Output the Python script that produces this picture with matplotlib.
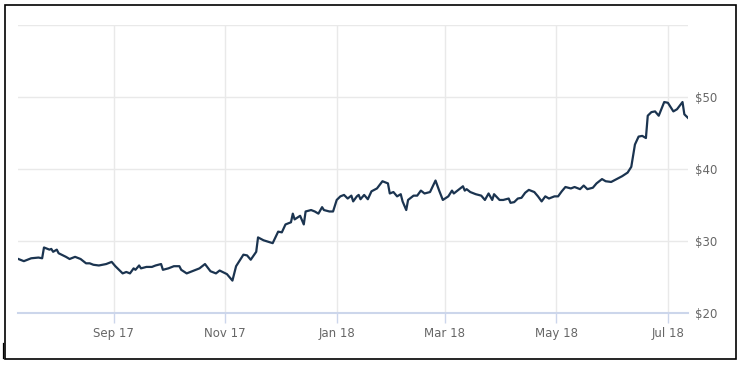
import matplotlib
matplotlib.use('Agg')
import matplotlib.pyplot as plt
import matplotlib.dates as mdates
import pandas as pd
from matplotlib.patches import Rectangle
from matplotlib.lines import Line2D

# дни от 2017-07-11 и цена закрытия
start_date = '2017-07-11'
days = [0, 3, 7, 11, 13, 14, 17, 18, 19, 21, 22, 26, 28, 31, 34, 37, 39, 41, 44, 48,
        51, 53, 55, 57, 59, 61, 63, 64, 66, 67, 70, 73, 75, 78, 79, 82, 85, 88, 89, 92,
        99, 102, 105, 108, 110, 114, 117, 119, 121, 123, 125, 127, 130, 131, 134, 139, 142, 144, 146, 149,
        150, 151, 154, 156, 157, 160, 162, 164, 166, 167, 170, 172, 174, 176, 178, 180, 182, 183, 185, 186,
        187, 189, 191, 193, 196, 199, 202, 203, 205, 207, 209, 210, 212, 213, 216, 218, 220, 222, 225, 228,
        230, 232, 235, 237, 238, 243, 244, 245, 247, 250, 253, 255, 257, 259, 260, 263, 265, 268, 269, 271,
        273, 275, 277, 279, 282, 284, 286, 288, 290, 293, 295, 297, 299, 302, 304, 307, 309, 311, 314, 316,
        319, 321, 324, 327, 330, 333, 335, 337, 339, 341, 343, 344, 346, 348, 350, 353, 355, 358, 360, 363,
        364, 366]
prices = [27.5, 27.2, 27.6, 27.7, 27.6, 29.1, 28.8, 28.9, 28.5, 28.8, 28.3, 27.8, 27.5, 27.8, 27.5, 26.9, 26.9, 26.7, 26.6, 26.8,
          27.1, 26.5, 26.0, 25.5, 25.7, 25.5, 26.2, 26.0, 26.6, 26.2, 26.4, 26.4, 26.6, 26.8, 26.0, 26.2, 26.5, 26.5, 26.0, 25.5,
          26.2, 26.8, 25.8, 25.5, 25.9, 25.4, 24.5, 26.5, 27.3, 28.1, 28.0, 27.4, 28.5, 30.5, 30.1, 29.7, 31.3, 31.2, 32.3, 32.6,
          33.8, 33.0, 33.5, 32.3, 34.1, 34.3, 34.1, 33.8, 34.7, 34.3, 34.1, 34.1, 35.7, 36.2, 36.4, 35.9, 36.3, 35.5, 36.2, 36.4,
          35.8, 36.4, 35.8, 36.9, 37.3, 38.3, 38.0, 36.6, 36.8, 36.2, 36.5, 35.5, 34.3, 35.7, 36.3, 36.3, 37.0, 36.6, 36.8, 38.4,
          37.0, 35.7, 36.2, 37.0, 36.6, 37.6, 37.0, 37.2, 36.8, 36.5, 36.3, 35.7, 36.6, 35.7, 36.5, 35.7, 35.7, 35.9, 35.3, 35.4,
          35.9, 36.0, 36.7, 37.1, 36.8, 36.2, 35.5, 36.2, 35.9, 36.2, 36.2, 36.9, 37.5, 37.3, 37.5, 37.2, 37.7, 37.2, 37.4, 38.0,
          38.6, 38.3, 38.2, 38.6, 39.0, 39.5, 40.3, 43.4, 44.5, 44.6, 44.3, 47.4, 47.9, 48.0, 47.4, 49.3, 49.2, 48.0, 48.3, 49.3,
          47.6, 47.1]
y_ticks = [20, 30, 40, 50, 60]

dates = pd.Timestamp(start_date) + pd.to_timedelta(days, unit='D')

fig = plt.figure(figsize=(7.42, 3.65), dpi=100)
W, H = 742, 365
ax = fig.add_axes([18 / W, (H - 313) / H, (688 - 18) / W, (313 - 25) / H])

ax.plot(dates, prices, color='#1b3450', lw=1.6, solid_joinstyle='round')

ax.set_ylim(20, 60)
ax.set_xlim(pd.Timestamp(start_date) - pd.Timedelta(days=0.2), pd.Timestamp(start_date) + pd.Timedelta(days=366))
ax.set_yticks(y_ticks)
ax.set_yticklabels(['$%d' % v if v < 60 else '' for v in y_ticks])
ax.yaxis.tick_right()
ax.tick_params(axis='y', length=0, pad=5, labelsize=8.5, labelcolor='#666666')

ax.xaxis.set_major_locator(mdates.MonthLocator(bymonth=[1, 3, 5, 7, 9, 11]))
ax.xaxis.set_major_formatter(mdates.DateFormatter('%b %y'))
ax.tick_params(axis='x', length=7.2, width=1, color='#ccd6eb', pad=3, labelsize=8.5, labelcolor='#666666')

ax.grid(True, color='#e9e9e9', lw=1)
ax.set_axisbelow(True)
for s in ['top', 'left', 'right']:
    ax.spines[s].set_visible(False)
ax.spines['bottom'].set_color('#ccd6eb')
ax.spines['bottom'].set_linewidth(1.5)

# рамка вокруг картинки
fig.patches.append(Rectangle((4.5 / W, (H - 359) / H), (736 - 4.5) / W, (359 - 5) / H,
                             transform=fig.transFigure, fill=False, ec='black', lw=1.2))
fig.lines.append(Line2D([2.5 / W, 2.5 / W], [(H - 358) / H, (H - 343) / H],
                        transform=fig.transFigure, color='black', lw=0.9))

fig.savefig('out.png', dpi=100)
